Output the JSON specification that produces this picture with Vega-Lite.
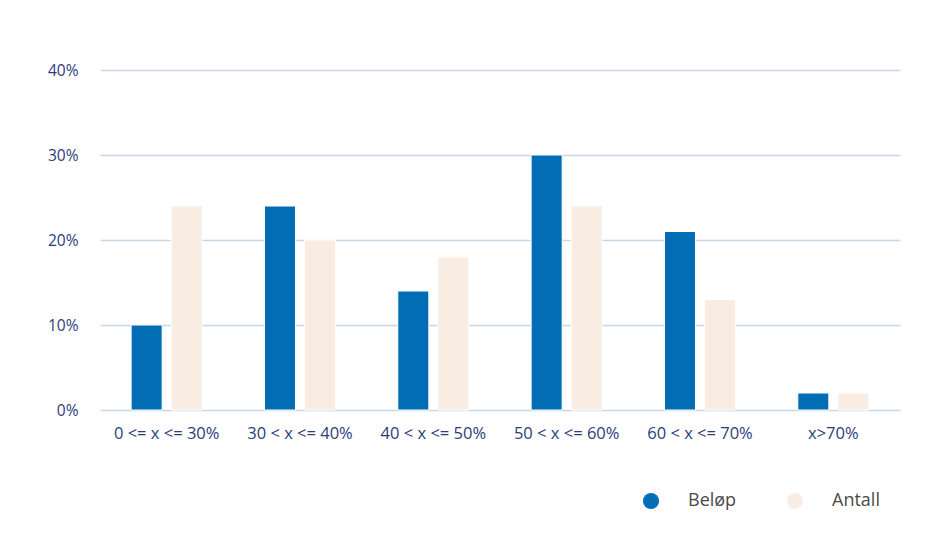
{
  "$schema": "https://vega.github.io/schema/vega-lite/v6.json",
  "autosize": "none",
  "width": 800,
  "height": 340,
  "padding": {"left": 100, "top": 70, "right": 33, "bottom": 137},
  "background": "#ffffff",
  "data": {
    "values": [
      {"kategori": "0 <= x <= 30%", "serie": "Beløp", "andel": 0.10},
      {"kategori": "0 <= x <= 30%", "serie": "Antall", "andel": 0.24},
      {"kategori": "30 < x <= 40%", "serie": "Beløp", "andel": 0.24},
      {"kategori": "30 < x <= 40%", "serie": "Antall", "andel": 0.20},
      {"kategori": "40 < x <= 50%", "serie": "Beløp", "andel": 0.14},
      {"kategori": "40 < x <= 50%", "serie": "Antall", "andel": 0.18},
      {"kategori": "50 < x <= 60%", "serie": "Beløp", "andel": 0.30},
      {"kategori": "50 < x <= 60%", "serie": "Antall", "andel": 0.24},
      {"kategori": "60 < x <= 70%", "serie": "Beløp", "andel": 0.21},
      {"kategori": "60 < x <= 70%", "serie": "Antall", "andel": 0.13},
      {"kategori": "x>70%", "serie": "Beløp", "andel": 0.02},
      {"kategori": "x>70%", "serie": "Antall", "andel": 0.02}
    ]
  },
  "mark": {"type": "bar", "stroke": "#ffffff", "strokeWidth": 1},
  "encoding": {
    "x": {
      "field": "kategori",
      "type": "nominal",
      "sort": null,
      "title": null,
      "scale": {"paddingInner": 0.467, "paddingOuter": 0.2335},
      "axis": {
        "labelAngle": 0,
        "domain": false,
        "ticks": false,
        "labelPadding": 15,
        "labelFont": "Open Sans",
        "labelFontSize": 16.5,
        "labelFontWeight": "normal",
        "labelColor": "#2b3d7a",
        "grid": false
      }
    },
    "xOffset": {
      "field": "serie",
      "type": "nominal",
      "sort": ["Beløp", "Antall"],
      "scale": {"paddingInner": 0.225, "paddingOuter": 0}
    },
    "y": {
      "field": "andel",
      "type": "quantitative",
      "title": null,
      "scale": {"domain": [0, 0.4], "nice": false},
      "axis": {
        "values": [0, 0.1, 0.2, 0.3, 0.4],
        "format": ".0%",
        "domain": false,
        "ticks": false,
        "labelPadding": 22,
        "labelFont": "Open Sans",
        "labelFontSize": 15.5,
        "labelFontWeight": "normal",
        "labelColor": "#2b3d7a",
        "gridColor": "#c8d6e5",
        "gridWidth": 1.5
      }
    },
    "color": {
      "field": "serie",
      "type": "nominal",
      "sort": ["Beløp", "Antall"],
      "scale": {"domain": ["Beløp", "Antall"], "range": ["#006db5", "#f9ece3"]},
      "legend": {
        "title": null,
        "orient": "none",
        "direction": "horizontal",
        "legendX": 542,
        "legendY": 422,
        "symbolType": "circle",
        "symbolSize": 260,
        "symbolStrokeWidth": 0,
        "labelOffset": 28,
        "columnPadding": 49,
        "labelFont": "Open Sans",
        "labelFontSize": 18,
        "labelColor": "#4a4a4a"
      }
    }
  },
  "config": {"view": {"stroke": null}}
}
